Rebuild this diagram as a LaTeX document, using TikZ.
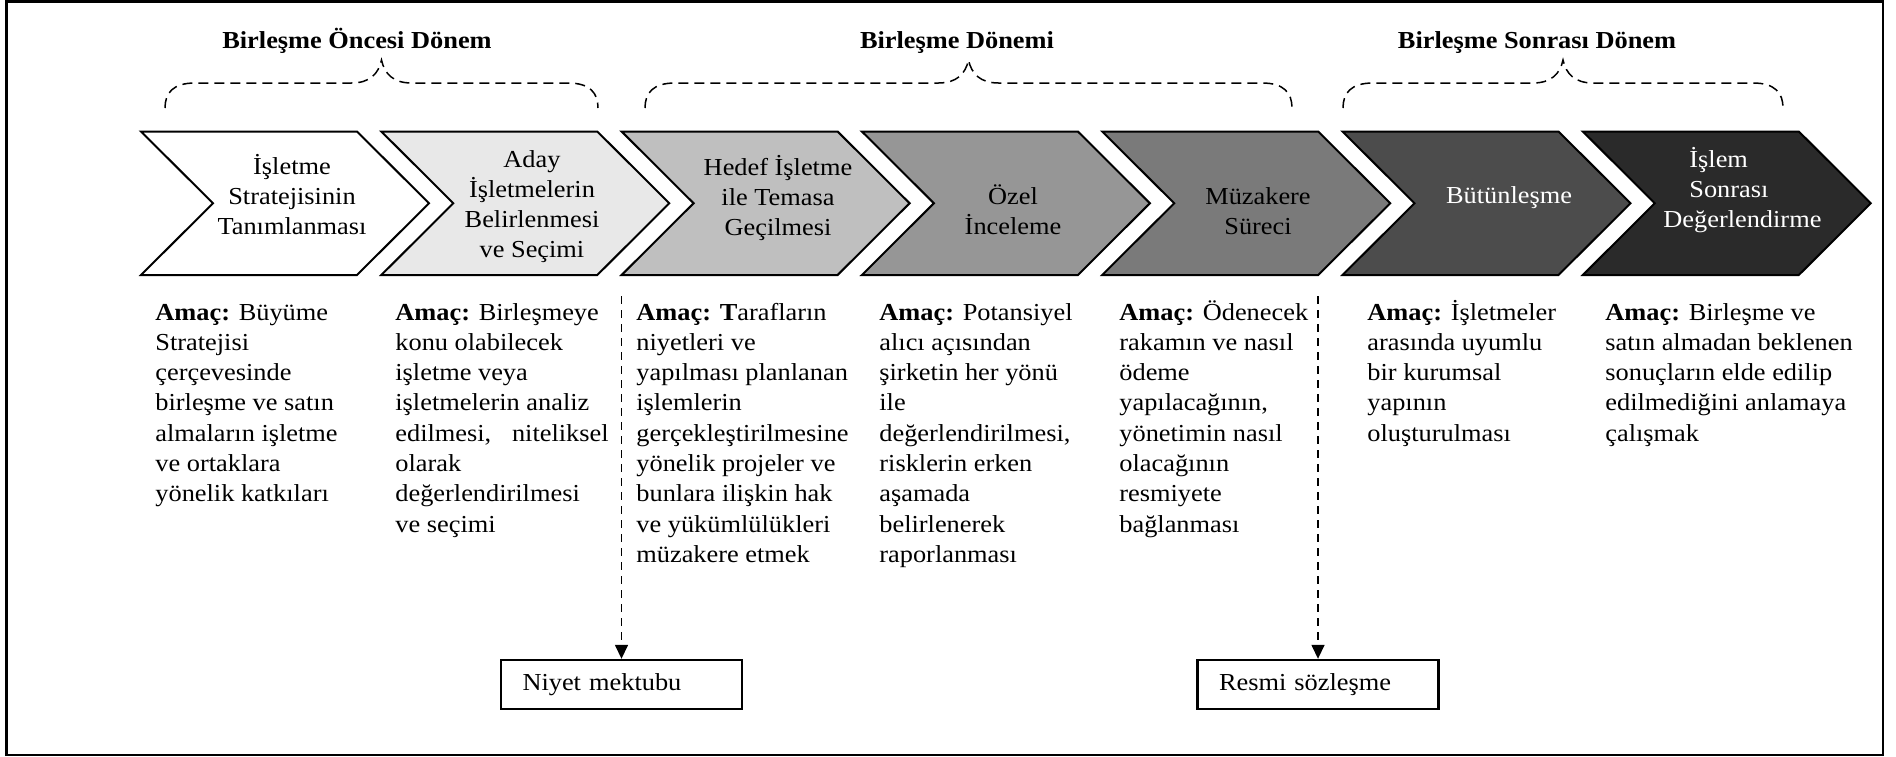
\documentclass[tikz,border=0pt]{standalone}
\usepackage{fontspec}
\setmainfont{Liberation Serif}[FakeStretch=1.08]
\usetikzlibrary{arrows.meta}
\definecolor{chA}{gray}{1}
\definecolor{chB}{gray}{0.91}
\definecolor{chC}{gray}{0.75}
\definecolor{chD}{gray}{0.59}
\definecolor{chE}{gray}{0.48}
\definecolor{chF}{gray}{0.30}
\definecolor{chG}{gray}{0.165}
\newcommand{\txtfont}{\fontsize{12.2pt}{15.15pt}\selectfont}
\newcommand{\mychev}[2]{\filldraw[chev,fill=#2] (#1,131.5) -- ++(216,0) -- ++(72,71.75) -- ++(-72,71.75) -- ++(-216,0) -- ++(72,-71.75) -- cycle;}
\newcommand{\mybrace}[3]{\draw[bracestyle] (#1,108) .. controls (#1,93) and (#1+8,83) .. (#1+30,83) -- (#3-30,83) .. controls (#3-12,83) and (#3-3,74) .. (#3,60) .. controls (#3+3,74) and (#3+12,83) .. (#3+30,83) -- (#2-30,83) .. controls (#2-8,83) and (#2,93) .. (#2,108);}
\begin{document}
\begin{tikzpicture}[x=0.5pt,y=-0.5pt,
  chev/.style={draw=black,line width=1pt,line join=miter},
  ctext/.style={inner sep=0pt,align=center,anchor=base,font=\txtfont},
  amac/.style={inner sep=0pt,align=left,anchor=base west,font=\txtfont},
  titletext/.style={inner sep=0pt,anchor=base,font=\txtfont\bfseries},
  bracestyle/.style={line width=0.75pt,dash pattern=on 5pt off 3pt},
  vdash/.style={line width=0.75pt,dash pattern=on 4pt off 3pt,-{Triangle[width=6.5pt,length=7pt]}},
  outbox/.style={draw,line width=1.2pt,minimum width=120.5pt,minimum height=24.5pt,text width=99pt,inner xsep=10.5pt,inner ysep=0pt,align=left,font=\txtfont}]
\useasboundingbox (0,0) rectangle (1896,756);
\draw[line width=1.4pt] (6.5,1.7) rectangle (1883,755);
% titles
\node[titletext] (h1) at (357,48) {Birleşme Öncesi Dönem};
\node[titletext] (h2) at (957,48) {Birleşme Dönemi};
\node[titletext] (h3) at (1537,48) {Birleşme Sonrası Dönem};
% braces
\mybrace{165}{598}{381.5}
\mybrace{645}{1292}{968.5}
\mybrace{1343}{1783}{1563}
% chevrons
\mychev{141}{chA}
\mychev{381.3}{chB}
\mychev{621.6}{chC}
\mychev{861.9}{chD}
\mychev{1102.2}{chE}
\mychev{1342.5}{chF}
\mychev{1582.8}{chG}
% (multi-line nodes: base = baseline of last line)
\node[ctext] (t1) at (292,234.6) {İşletme\\Stratejisinin\\Tanımlanması};
\node[ctext] (t2) at (532,257.9) {Aday\\İşletmelerin\\Belirlenmesi\\ve Seçimi};
\node[ctext] (t3) at (778,235.6) {Hedef İşletme\\ile Temasa\\Geçilmesi};
\node[ctext] (t4) at (1013,234.3) {Özel\\İnceleme};
\node[ctext] (t5) at (1258,234.3) {Müzakere\\Süreci};
\node[ctext,text=white] (t6) at (1509,203) {Bütünleşme};
\node[ctext,text=white,align=left,anchor=base west] (t7) at (1663,227.6) {\hspace*{13pt}İşlem\\\hspace*{13pt}Sonrası\\Değerlendirme};
% purpose texts
\node[amac] (a1) at (155,501.8) {\textbf{Amaç:} Büyüme\\Stratejisi\\çerçevesinde\\birleşme ve satın\\almaların işletme\\ve ortaklara\\yönelik katkıları};
\node[amac] (a2) at (395,532.1) {\textbf{Amaç:} Birleşmeye\\konu olabilecek\\işletme veya\\işletmelerin analiz\\edilmesi,\hspace{0.85em}niteliksel\\olarak\\değerlendirilmesi\\ve seçimi};
\node[amac] (a3) at (636,562.4) {\textbf{Amaç: T}arafların\\niyetleri ve\\yapılması planlanan\\işlemlerin\\gerçekleştirilmesine\\yönelik projeler ve\\bunlara ilişkin hak\\ve yükümlülükleri\\müzakere etmek};
\node[amac] (a4) at (879,562.4) {\textbf{Amaç:} Potansiyel\\alıcı açısından\\şirketin her yönü\\ile\\değerlendirilmesi,\\risklerin erken\\aşamada\\belirlenerek\\raporlanması};
\node[amac] (a5) at (1119,532.1) {\textbf{Amaç:} Ödenecek\\rakamın ve nasıl\\ödeme\\yapılacağının,\\yönetimin nasıl\\olacağının\\resmiyete\\bağlanması};
\node[amac] (a6) at (1367,441.2) {\textbf{Amaç:} İşletmeler\\arasında uyumlu\\bir kurumsal\\yapının\\oluşturulması};
\node[amac] (a7) at (1605,441.2) {\textbf{Amaç:} Birleşme ve\\satın almadan beklenen\\sonuçların elde edilip\\edilmediğini anlamaya\\çalışmak};
% output boxes and arrows
\node[outbox] (niyet) at (621.5,684.5) {Niyet mektubu};
\node[outbox] (resmi) at (1318,684.5) {Resmi sözleşme};
\coordinate (d1) at (621.5,296);
\coordinate (d2) at (1318,296);
\draw[vdash] (d1) -- (niyet.north);
\draw[vdash] (d2) -- (resmi.north);
\end{tikzpicture}
\end{document}
